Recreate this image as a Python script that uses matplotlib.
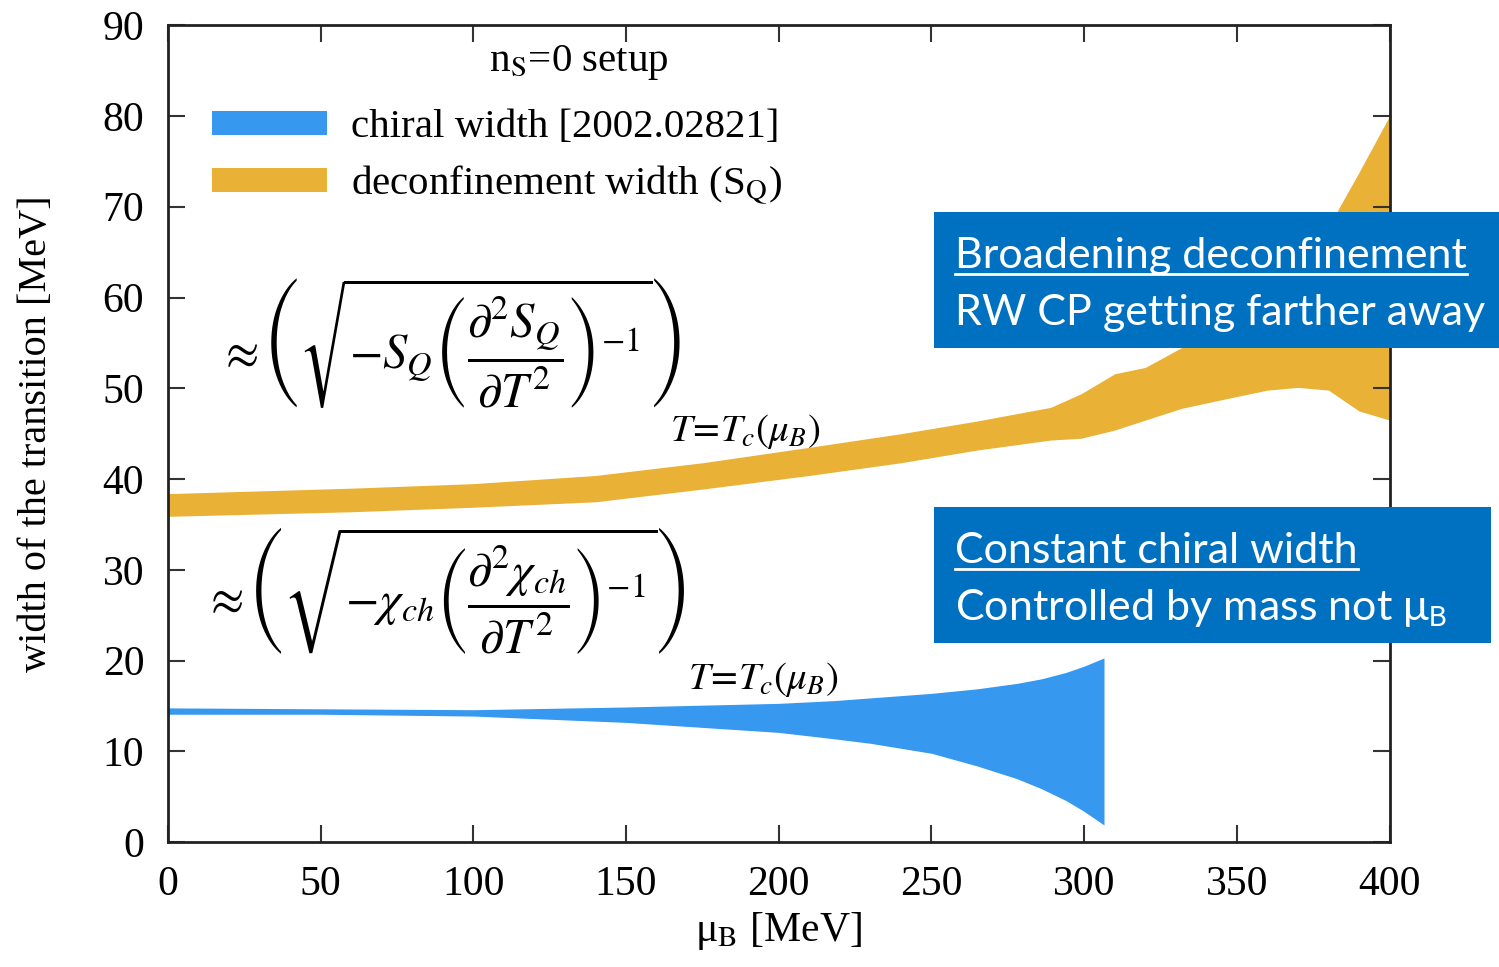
import numpy as np
import matplotlib.pyplot as plt
from matplotlib.patches import Patch, Rectangle
from matplotlib.lines import Line2D

plt.rcParams['font.family'] = ['Liberation Serif', 'DejaVu Serif']
plt.rcParams['mathtext.fontset'] = 'stix'

# deconfinement width from S_Q: lower / upper edge of the band
mu_dec = [0, 60, 100, 140, 175, 210, 240, 265, 289, 299, 310, 320, 332, 350, 360, 370, 380, 390, 400]
dec_hi = [38.4, 39.0, 39.5, 40.4, 41.8, 43.5, 45.0, 46.4, 47.9, 49.4, 51.6, 52.3, 54.5, 57.6, 60.2, 63.8, 67.8, 73.8, 80.0]
dec_lo = [35.9, 36.4, 36.9, 37.5, 38.9, 40.4, 41.8, 43.2, 44.3, 44.5, 45.4, 46.5, 47.8, 49.1, 49.8, 50.1, 49.8, 47.5, 46.5]

# chiral width [2002.02821]
mu_ch = [0, 50, 100, 150, 200, 218, 230, 250, 265, 278, 286, 294, 300, 306.5]
ch_hi = [14.8, 14.7, 14.6, 14.9, 15.3, 15.6, 15.9, 16.4, 16.9, 17.5, 18.0, 18.7, 19.4, 20.3]
ch_lo = [14.1, 14.1, 13.9, 13.2, 12.1, 11.4, 10.9, 9.8, 8.4, 7.0, 5.9, 4.6, 3.4, 1.9]

blue = '#3798F0'
orange = '#EAB137'
boxblue = '#0070C0'

fig = plt.figure(figsize=(14.99, 9.67), dpi=100)
ax = fig.add_axes([0.112, 0.129, 0.815, 0.845])

ax.fill_between(mu_ch, ch_lo, ch_hi, color=blue, lw=0)
ax.fill_between(mu_dec, dec_lo, dec_hi, color=orange, lw=0)

ax.set_xlim(0, 400)
ax.set_ylim(0, 90)
ax.set_xticks(np.arange(0, 401, 50))
ax.set_yticks(np.arange(0, 91, 10))
ax.tick_params(direction='in', length=12, width=1.5, top=True, right=True,
               labelsize=30, color='#333333')
ax.tick_params(axis='x', pad=17)
ax.tick_params(axis='y', pad=17)
for s in ax.spines.values():
    s.set_linewidth(2)
    s.set_color('#222222')

ax.set_xlabel('μ$_\\mathrm{B}$ [MeV]', fontsize=30, labelpad=4)
ax.set_ylabel('width of the transition [MeV]', fontsize=29, labelpad=34)

handles = [Patch(color=blue, lw=0), Patch(color=orange, lw=0)]
labels = ['chiral width [2002.02821]', 'deconfinement width (S$_\\mathrm{Q}$)']
ax.legend(handles, labels, loc='upper left', bbox_to_anchor=(0.006, 0.942),
          frameon=False, fontsize=29.5, handlelength=2.8, handleheight=0.55,
          handletextpad=0.6, labelspacing=0.42)
fig.text(0.386, 1 - 63 / 967, 'n$_\\mathrm{S}$=0 setup', fontsize=29.5, ha='center', va='center')

# approximations for the widths, evaluated at T = T_c(mu_B)
W, H = 1499, 967
f1 = r'$\approx\left(\sqrt{-S_Q\left(\dfrac{\partial^2 S_Q}{\partial T^2}\right)^{-1}}\right)$'
f2 = r'$\approx\left(\sqrt{-\chi_{ch}\left(\dfrac{\partial^2 \chi_{ch}}{\partial T^2}\right)^{-1}}\right)$'
at_tc = r'$T\!=\!T_c(\mu_B)$'
fig.text(218 / W, 1 - 343 / H, f1, fontsize=35, ha='left', va='center', math_fontfamily='stix')
fig.text(203 / W, 1 - 591 / H, f2, fontsize=35, ha='left', va='center', math_fontfamily='stix')
fig.text(670 / W, 1 - 441 / H, at_tc, fontsize=28, ha='left', va='baseline', math_fontfamily='stix')
fig.text(688 / W, 1 - 689 / H, at_tc, fontsize=28, ha='left', va='baseline', math_fontfamily='stix')

# callout boxes
boxes = [
    ((934, 212, 1499, 348), 'Broadening deconfinement', 'RW CP getting farther away', 268, 325),
    ((934, 507, 1491, 643), 'Constant chiral width', 'Controlled by mass not μ$_\\mathrm{B}$', 563, 620),
]
heads = []
for (x0, y0, x1, y1), head, body, b1, b2 in boxes:
    fig.patches.append(Rectangle((x0 / W, 1 - y1 / H), (x1 - x0) / W, (y1 - y0) / H,
                                 transform=fig.transFigure, color=boxblue, lw=0, zorder=5))
    t = fig.text(955 / W, 1 - b1 / H, head, fontsize=31, family='Lato', color='white',
                 va='baseline', zorder=6)
    fig.text(955 / W, 1 - b2 / H, body, fontsize=31, family='Lato', color='white',
             va='baseline', zorder=6, math_fontfamily='stixsans')
    heads.append((t, b1))

fig.canvas.draw()
r = fig.canvas.get_renderer()
for t, b in heads:
    bb = t.get_window_extent(r)
    yl = 1 - (b + 6) / H
    fig.add_artist(Line2D([bb.x0 / W, bb.x1 / W], [yl, yl], transform=fig.transFigure,
                          color='white', lw=2, zorder=7))

fig.savefig('out.png', dpi=100)
